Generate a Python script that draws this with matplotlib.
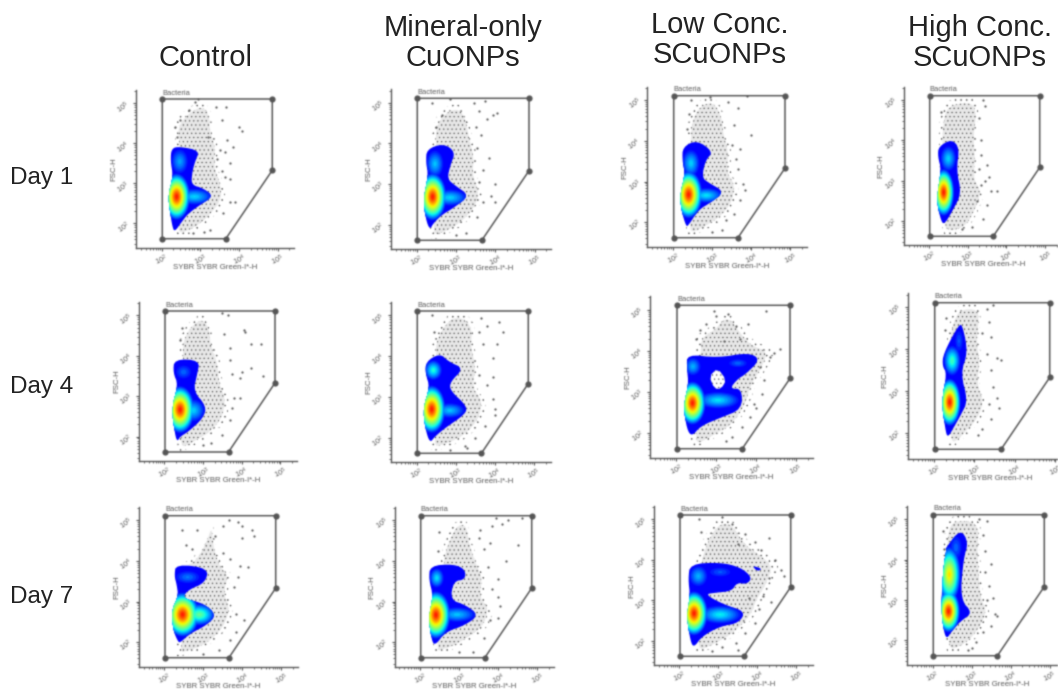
import numpy as np
import matplotlib
matplotlib.use("Agg")
import matplotlib.pyplot as plt
from matplotlib.patches import Ellipse, Polygon

plt.rcParams['font.family'] = ['Liberation Sans', 'DejaVu Sans']
plt.rcParams['hatch.linewidth'] = 0.3

W, H = 1058, 689

col_titles = ["Control", "Mineral-only\nCuONPs", "Low Conc.\nSCuONPs", "High Conc.\nSCuONPs"]
row_titles = ["Day 1", "Day 4", "Day 7"]
x_label = "SYBR SYBR Green-I*-H"
y_label = "FSC-H"
gate_name = "Bacteria"
tick_values = [2, 3, 4, 5]

# gate vertices, log10 units
gate_x = [2.02, 4.86, 4.86, 3.66, 2.02]
gate_y = [5.11, 5.11, 3.33, 1.62, 1.62]

# outlines of the coloured density area, log10 units
outline_c1 = [(2.26,3.88),(2.47,3.92),(2.99,3.82),(2.86,3.54),(2.78,3.21),(2.78,2.96),(3.08,2.88),(3.34,2.68),(2.99,2.46),(2.69,2.25),(2.52,2.04),(2.34,1.79),(2.28,1.92),(2.22,2.29),(2.17,2.71),(2.30,3.17),(2.23,3.58)]
outline_m1 = [(2.26,3.86),(2.69,4.0),(2.99,3.79),(2.86,3.46),(2.78,3.13),(2.99,2.96),(3.35,2.72),(2.95,2.42),(2.65,2.25),(2.43,2.04),(2.34,1.88),(2.24,2.12),(2.17,2.62),(2.3,3.21),(2.24,3.54)]
outline_l1 = [(2.25,3.85),(2.61,4.02),(3.03,3.73),(2.83,3.52),(2.74,3.1),(2.91,2.97),(3.32,2.75),(2.96,2.48),(2.66,2.31),(2.4,1.93),(2.34,1.89),(2.22,2.27),(2.18,2.68),(2.31,3.18),(2.24,3.52)]
outline_h1 = [(2.25,3.85),(2.59,4.03),(2.79,3.81),(2.71,3.27),(2.84,2.68),(2.62,2.27),(2.41,1.93),(2.32,1.97),(2.19,2.52),(2.32,3.27),(2.23,3.6)]
outline_c4 = [(2.26,3.92),(2.92,3.89),(2.85,3.54),(2.75,3.13),(3.09,2.75),(3.01,2.46),(2.62,2.12),(2.41,2.0),(2.34,1.88),(2.28,2.04),(2.19,2.71),(2.36,3.29),(2.23,3.58)]
outline_m4 = [(2.24,3.87),(2.6,4.07),(2.82,3.87),(3.21,3.7),(2.86,3.37),(2.86,3.16),(3.29,2.78),(3.25,2.58),(2.73,2.24),(2.47,2.03),(2.34,1.87),(2.22,2.24),(2.17,2.74),(2.34,3.24),(2.23,3.57)]
outline_l4 = [(2.27,3.92),(3.04,3.83),(3.82,3.96),(4.12,3.79),(3.73,3.42),(3.56,3.33),(3.34,3.08),(3.65,3.08),(3.65,2.58),(3.13,2.38),(2.61,2.17),(2.4,1.92),(2.27,2.08),(2.18,2.67),(2.31,3.17),(2.27,3.58)]
outline_h4 = [(2.23,3.89),(2.62,4.6),(2.71,4.56),(2.84,3.93),(2.66,3.43),(2.84,2.77),(2.66,2.43),(2.49,2.14),(2.34,1.89),(2.28,2.1),(2.19,2.77),(2.32,3.43),(2.21,3.6)]
outline_c7 = [(2.3,3.92),(3.14,3.82),(3.05,3.46),(2.62,3.29),(2.45,3.08),(3.01,2.96),(3.34,2.67),(3.09,2.42),(2.66,2.21),(2.42,2.0),(2.36,2.0),(2.23,2.29),(2.19,2.79),(2.36,3.13),(2.32,3.42),(2.26,3.63)]
outline_m7 = [(2.26,3.88),(2.86,3.92),(3.16,3.79),(3.16,3.54),(2.86,3.5),(2.78,3.04),(3.16,2.92),(3.51,2.67),(3.16,2.42),(2.65,2.25),(2.39,1.92),(2.3,2.04),(2.22,2.62),(2.34,3.13),(2.23,3.54)]
outline_l7 = [(2.28,3.9),(3.05,3.94),(3.57,3.82),(3.87,3.57),(3.74,3.4),(3.48,3.44),(3.35,3.23),(2.92,3.19),(2.66,3.15),(3.14,2.9),(3.7,2.73),(3.53,2.44),(3.05,2.36),(2.58,2.11),(2.38,1.84),(2.29,1.98),(2.19,2.61),(2.28,3.11),(2.23,3.53)]
outline_h7 = [(2.32,4.26),(2.71,4.76),(2.92,4.43),(2.79,4.01),(2.71,3.01),(3.03,2.68),(2.71,2.47),(2.49,2.22),(2.36,2.03),(2.28,2.26),(2.22,2.84),(2.28,3.84),(2.36,4.26)]
outlines = [outline_c1, outline_m1, outline_l1, outline_h1,
            outline_c4, outline_m4, outline_l4, outline_h4,
            outline_c7, outline_m7, outline_l7, outline_h7]

# density peaks: x, y, x radius, y radius, peak height 0-1
peaks_c1 = [(2.39,2.67,.36,.60,1.0),(2.85,2.67,.50,.22,.30),(2.47,3.55,.24,.34,.24)]
peaks_m1 = [(2.41,2.69,.36,.60,1.0),(2.85,2.67,.48,.22,.30),(2.47,3.5,.24,.36,.28)]
peaks_l1 = [(2.40,2.68,.36,.60,1.0),(2.85,2.66,.46,.20,.32),(2.46,3.45,.24,.36,.30)]
peaks_h1 = [(2.38,2.71,.28,.60,1.0),(2.5,3.55,.22,.34,.30)]
peaks_c4 = [(2.41,2.67,.38,.60,1.0),(2.75,2.65,.32,.30,.30),(2.5,3.6,.24,.20,.16)]
peaks_m4 = [(2.39,2.70,.36,.60,1.0),(2.85,2.67,.42,.20,.28),(2.43,3.66,.24,.26,.38)]
peaks_l4 = [(2.41,2.73,.34,.54,1.0),(3.05,2.8,.58,.22,.32),(2.42,3.62,.22,.24,.26),(3.55,3.7,.28,.12,.16)]
peaks_h4 = [(2.39,2.74,.28,.58,1.0),(2.45,3.73,.22,.38,.42),(2.62,4.2,.12,.30,.14)]
peaks_c7 = [(2.47,2.68,.44,.56,1.0),(2.90,2.68,.42,.28,.48),(2.6,3.6,.36,.18,.18)]
peaks_m7 = [(2.41,2.67,.38,.60,1.0),(2.95,2.68,.52,.20,.28),(2.43,3.58,.20,.26,.32)]
peaks_l7 = [(2.38,2.68,.36,.56,1.0),(3.05,2.65,.58,.24,.34),(2.49,3.6,.26,.28,.26),(3.05,3.7,.34,.14,.14)]
peaks_h7 = [(2.41,2.72,.30,.54,1.0),(2.43,3.63,.30,.72,.74),(2.6,4.3,.18,.34,.16)]
peaks = [peaks_c1, peaks_m1, peaks_l1, peaks_h1,
         peaks_c4, peaks_m4, peaks_l4, peaks_h4,
         peaks_c7, peaks_m7, peaks_l7, peaks_h7]

# areas where the events are too dense to read one by one
cloud_c1 = [(3.08,5.08),(3.29,4.79),(3.29,4.42),(3.47,3.96),(3.42,3.42),(3.64,2.92),(3.64,2.5),(3.25,2.08),(2.91,1.83),(2.52,1.65),(2.34,1.65),(2.34,1.92),(2.39,3.92),(2.3,4.5),(2.65,4.88)]
cloud_m1 = [(3.1,5.0),(3.3,4.7),(3.4,4.2),(3.55,3.7),(3.5,3.2),(3.7,2.8),(3.6,2.4),(3.2,2.0),(2.85,1.8),(2.5,1.65),(2.34,1.65),(2.34,2.0),(2.4,4.0),(2.4,4.5),(2.7,4.9)]
cloud_l1 = [(3.05,5.1),(3.3,4.7),(3.35,4.2),(3.5,3.8),(3.45,3.2),(3.7,2.9),(3.6,2.4),(3.2,2.0),(2.8,1.8),(2.5,1.65),(2.34,1.65),(2.34,2.0),(2.35,4.0),(2.4,4.6),(2.65,5.0)]
cloud_h1 = [(3.15,5.1),(3.3,4.8),(3.2,4.2),(3.25,3.6),(3.2,3.0),(3.45,2.7),(3.25,2.2),(3.0,1.8),(2.7,1.65),(2.34,1.65),(2.34,2.0),(2.25,3.9),(2.27,4.5),(2.4,5.0)]
cloud_c4 = [(3.0,5.05),(3.2,4.8),(3.25,4.3),(3.45,3.9),(3.5,3.3),(3.7,2.9),(3.6,2.4),(3.2,2.0),(2.8,1.8),(2.5,1.65),(2.34,1.65),(2.34,2.0),(2.4,3.9),(2.4,4.5),(2.7,4.9)]
cloud_m4 = [(3.2,5.1),(3.5,4.8),(3.45,4.3),(3.6,3.8),(3.5,3.2),(3.8,2.9),(3.7,2.4),(3.3,2.0),(2.9,1.8),(2.5,1.68),(2.36,1.68),(2.36,2.0),(2.4,4.0),(2.4,4.5),(2.8,5.05)]
cloud_l4 = [(3.3,5.0),(3.7,4.5),(4.0,4.2),(4.5,4.05),(4.3,3.6),(4.0,3.2),(3.8,2.6),(3.4,2.1),(2.9,1.85),(2.5,1.65),(2.36,1.65),(2.36,2.0),(2.5,3.95),(2.5,4.4),(2.9,4.6)]
cloud_h4 = [(3.15,5.1),(3.15,4.7),(3.1,4.2),(3.2,3.7),(3.1,3.2),(3.3,2.7),(3.15,2.3),(2.8,1.95),(2.5,1.68),(2.36,1.68),(2.34,2.0),(2.3,4.2),(2.4,4.7),(2.6,5.08)]
cloud_c7 = [(3.25,5.0),(3.3,4.4),(3.5,3.9),(3.75,3.7),(3.6,3.2),(3.8,2.8),(3.6,2.3),(3.2,1.95),(2.8,1.75),(2.4,1.65),(2.3,1.65),(2.34,2.0),(2.4,3.9),(2.8,4.1),(3.1,4.6)]
cloud_m7 = [(3.2,5.05),(3.3,4.5),(3.5,4.0),(3.7,3.6),(3.6,3.1),(3.9,2.8),(3.7,2.3),(3.2,2.0),(2.8,1.8),(2.4,1.68),(2.34,1.68),(2.34,2.0),(2.5,3.9),(2.6,4.4),(2.9,5.0)]
cloud_l7 = [(3.35,5.05),(3.7,4.5),(4.2,4.2),(4.6,3.9),(4.4,3.4),(4.1,3.0),(3.95,2.6),(3.4,2.1),(2.9,1.85),(2.5,1.68),(2.36,1.68),(2.34,2.0),(2.4,3.9),(2.55,4.4),(2.9,5.0)]
cloud_h7 = [(3.0,5.1),(3.25,4.9),(3.2,4.3),(3.25,3.6),(3.3,3.0),(3.5,2.7),(3.25,2.2),(2.9,1.85),(2.55,1.68),(2.36,1.68),(2.34,2.0),(2.25,3.9),(2.3,4.6),(2.4,5.08)]
clouds = [cloud_c1, cloud_m1, cloud_l1, cloud_h1,
          cloud_c4, cloud_m4, cloud_l4, cloud_h4,
          cloud_c7, cloud_m7, cloud_l7, cloud_h7]

# single events away from the dense part
dots_c1 = [(4.0,4.42),(4.08,4.32),(3.66,4.92),(3.55,4.58),(3.69,4.08),(3.77,3.5),(3.64,3.79),(3.64,3.17),(3.77,3.12),(3.9,2.54),(3.77,2.54),(3.6,2.25),(3.42,3.6),(3.5,3.83),(2.86,5.04),(2.72,4.83),(2.47,4.58),(2.39,4.17),(2.34,4.42),(3.2,4.17),(3.25,1.83),(3.09,1.79),(2.8,1.75),(3.55,3.3),(3.4,4.9),(2.95,5.1),(3.85,3.9)]
dots_m1 = [(4.05,4.75),(3.95,4.7),(3.75,5.05),(3.6,4.8),(3.8,4.6),(3.85,3.65),(3.65,4.2),(3.7,3.35),(4.0,3.0),(3.9,2.7),(4.0,2.55),(3.7,2.55),(3.55,2.2),(3.55,3.9),(2.4,5.0),(2.65,4.7),(3.45,5.0),(3.25,1.8),(3.0,1.75),(3.6,3.05),(3.5,4.4),(2.85,5.1),(2.5,4.4)]
dots_l1 = [(4.0,4.15),(3.9,5.1),(3.65,4.8),(3.55,4.4),(3.7,3.8),(3.65,3.3),(3.8,2.95),(3.85,2.8),(3.7,2.55),(3.55,2.2),(3.5,3.9),(2.45,5.0),(2.4,4.65),(2.95,5.08),(3.25,1.8),(3.0,1.75),(3.4,4.95),(3.6,3.55),(2.35,4.3),(3.35,2.05)]
dots_h1 = [(3.4,5.0),(3.45,4.85),(3.3,4.55),(3.35,4.0),(3.5,3.4),(3.55,3.1),(3.6,2.75),(3.75,2.75),(3.5,2.4),(3.4,2.05),(3.35,3.65),(3.35,2.9),(3.1,1.85),(2.85,1.8),(2.3,4.7),(3.25,2.5),(3.45,3.0),(3.3,3.3)]
dots_c4 = [(4.05,4.65),(4.08,4.6),(4.25,4.3),(4.5,4.3),(4.25,3.7),(4.0,3.6),(3.95,3.45),(4.55,3.5),(3.95,2.95),(3.75,2.7),(3.7,2.4),(3.5,2.05),(3.7,3.9),(3.75,3.55),(3.7,4.2),(3.5,5.05),(3.65,5.0),(2.45,4.7),(2.4,4.4),(3.2,1.85),(3.0,1.8),(3.8,2.95),(3.55,4.55)]
dots_m4 = [(4.1,4.85),(4.2,4.6),(4.05,4.3),(3.95,3.95),(3.95,3.5),(4.0,2.7),(4.0,2.55),(3.95,2.95),(3.75,2.3),(3.5,2.0),(3.25,1.8),(3.65,4.95),(3.8,4.75),(3.7,4.3),(2.4,5.0),(2.45,4.6),(3.8,3.3),(3.3,1.75),(2.85,1.7),(3.6,4.6),(3.6,3.55)]
dots_l4 = [(4.25,4.98),(4.45,3.95),(4.6,4.05),(4.35,3.85),(4.1,3.6),(4.2,3.3),(4.15,2.95),(3.95,2.7),(3.85,2.4),(3.65,2.15),(3.4,1.9),(3.25,1.8),(3.3,4.9),(2.95,4.98),(3.0,4.85),(2.6,4.5),(2.5,4.3),(3.5,4.6),(3.8,4.65),(4.0,2.6),(3.2,4.25),(3.6,4.3),(2.75,4.65)]
dots_h4 = [(3.3,4.95),(3.45,5.05),(3.35,4.65),(3.4,4.3),(3.55,3.8),(3.65,3.75),(3.4,3.5),(3.45,3.1),(3.55,2.85),(3.6,2.6),(3.4,2.35),(3.2,2.1),(3.1,1.95),(2.3,4.75),(2.28,4.45),(3.2,4.4),(3.3,3.9),(3.35,2.7)]
dots_c7 = [(3.65,5.0),(3.9,4.95),(4.0,4.85),(4.25,4.75),(4.3,4.6),(4.0,4.55),(3.5,4.85),(2.45,4.75),(2.85,4.75),(3.3,4.6),(3.5,4.2),(3.95,3.88),(4.15,3.85),(3.9,3.6),(3.8,3.35),(4.05,2.55),(3.85,2.25),(3.7,2.05),(3.4,1.8),(3.0,1.72),(3.7,4.05),(2.55,4.4),(2.7,4.3),(3.85,2.7)]
dots_m7 = [(3.95,5.05),(4.25,5.0),(4.6,5.05),(4.5,4.4),(4.1,4.9),(3.85,4.85),(3.8,4.45),(3.55,4.75),(3.65,4.3),(3.75,3.85),(4.0,3.55),(4.0,3.1),(4.05,2.9),(3.8,2.55),(4.0,2.6),(3.65,2.1),(3.35,1.75),(3.0,1.75),(3.5,4.55),(2.5,4.7),(2.45,4.25),(3.85,3.3),(4.2,4.0)]
dots_l7 = [(4.45,4.0),(4.7,3.6),(4.6,3.75),(4.3,3.55),(4.15,3.1),(4.05,2.8),(3.95,2.45),(3.7,2.2),(3.45,1.95),(3.1,1.85),(2.5,5.0),(2.55,4.7),(3.1,5.05),(3.35,4.9),(3.7,4.65),(3.95,4.45),(4.1,4.25),(4.3,4.55),(3.5,4.4),(3.8,3.05),(3.5,1.78),(2.85,1.75),(4.35,2.95)]
dots_h7 = [(3.2,5.0),(3.4,4.95),(3.5,3.9),(3.45,3.35),(3.35,3.7),(3.6,2.65),(3.65,2.6),(3.5,2.35),(3.4,3.0),(3.3,4.6),(3.35,4.2),(3.3,2.2),(3.1,1.95),(2.9,1.75),(3.55,3.05),(2.28,4.7),(2.3,4.25),(3.0,1.8)]
dots = [dots_c1, dots_m1, dots_l1, dots_h1,
        dots_c4, dots_m4, dots_l4, dots_h4,
        dots_c7, dots_m7, dots_l7, dots_h7]

# holes and small separate pieces of the density area
hole_l4 = [(2.83,3.38),(3.04,3.58),(3.26,3.29),(3.13,3.08),(2.96,3.08)]
island_l7 = [(3.87,3.86),(4.13,3.78),(4.0,3.72)]

# gate corners in pixels: left, right, top, bottom
gate_left = [162.3, 417.3, 673.7, 929.7, 165, 417.3, 677, 934.7, 165, 420.7, 680, 933.3]
gate_right = [272.3, 529, 785, 1039.7, 275, 528.3, 790, 1049.7, 275.7, 531.7, 790.7, 1044.3]
gate_top = [99, 98.3, 95.7, 95.7, 311, 311, 305.3, 302.7, 515.7, 515.7, 515, 514.7]
gate_bottom = [238.7, 240.3, 237.7, 236.3, 452, 453.3, 448.7, 449.3, 657.7, 657.7, 656.3, 655.7]

XLIM = (1.35, 5.43)
YLIM = (1.40, 5.33)
GREY = '#555555'


def blur(img, dpi, sigma=0.7, pad=4):
    # soft look of the scanned figure, done on premultiplied colour
    src = np.pad(img, ((pad, pad), (pad, pad), (0, 0)))
    src[..., :3] *= src[..., 3:]
    k = np.arange(-pad, pad + 1)
    k = np.exp(-k**2 / (2 * sigma**2))
    k /= k.sum()
    for axis in (0, 1):
        src = np.apply_along_axis(np.convolve, axis, src, k, mode='same')
    a = np.clip(src[..., 3:], 1e-4, 1)
    src[..., :3] = np.clip(src[..., :3] / a, 0, 1)
    return np.clip(src, 0, 1), -pad, -pad


def rounded(points, passes=2):
    # corner cutting, so the read-off outlines do not look like polygons
    pts = np.array(points, dtype=float)
    for _ in range(passes):
        nxt = np.roll(pts, -1, axis=0)
        pts = np.column_stack([0.75 * pts + 0.25 * nxt, 0.25 * pts + 0.75 * nxt]).reshape(-1, 2)
    return pts


def draw_density(ax, outline, spots):
    shape = Polygon(rounded(outline), closed=True, fc=plt.cm.jet(0.12), ec='none', zorder=3)
    ax.add_patch(shape)
    steps = 24
    for i in range(1, steps + 1):
        t = i / steps
        color = plt.cm.jet(0.12 + 0.79 * t)
        for x, y, rx, ry, level in spots:
            if t > level:
                continue
            f = (1 - t / level) ** 0.8
            e = Ellipse((x, y), 2 * rx * f, 2 * ry * f, fc=color, ec='none', zorder=3 + t)
            ax.add_patch(e)
            e.set_clip_path(shape)


fig = plt.figure(figsize=(W / 100, H / 100), dpi=100, facecolor='white')

for i in range(12):
    sx = (gate_right[i] - gate_left[i]) / (gate_x[1] - gate_x[0])
    sy = (gate_bottom[i] - gate_top[i]) / (gate_y[0] - gate_y[3])
    left = gate_left[i] + (XLIM[0] - gate_x[0]) * sx
    bottom = gate_bottom[i] - (YLIM[0] - gate_y[3]) * sy
    w = (XLIM[1] - XLIM[0]) * sx
    h = (YLIM[1] - YLIM[0]) * sy
    ax = fig.add_axes([left / W, 1 - bottom / H, w / W, h / H])
    ax.set_xlim(XLIM)
    ax.set_ylim(YLIM)
    ax.patch.set_visible(False)
    for side in ('top', 'right'):
        ax.spines[side].set_visible(False)
    for side in ('left', 'bottom'):
        ax.spines[side].set_color(GREY)
        ax.spines[side].set_linewidth(1.0)

    minor = [d + np.log10(m) for d in (1, 2, 3, 4, 5) for m in range(2, 10)]
    ax.set_xticks(tick_values)
    ax.set_yticks(tick_values)
    ax.set_xticks([v for v in minor if XLIM[0] < v < XLIM[1]], minor=True)
    ax.set_yticks([v for v in minor if YLIM[0] < v < YLIM[1]], minor=True)
    labels = ['$\\mathregular{10^{%d}}$' % v for v in tick_values]
    ax.set_xticklabels(labels, rotation=25, fontsize=5.2, color=GREY)
    ax.set_yticklabels(labels, rotation=35, fontsize=5.2, color=GREY)
    ax.tick_params(which='major', length=2.2, width=0.8, color=GREY, pad=1)
    ax.tick_params(which='minor', length=1.2, width=0.6, color=GREY)
    ax.set_xlabel(x_label, fontsize=5.6, color=GREY)
    ax.set_ylabel(y_label, fontsize=5.6, color=GREY)
    ax.xaxis.set_label_coords(0.5, -16.0 / h)
    ax.yaxis.set_label_coords(-19.0 / w, 0.5)

    # dense events: sparse stipple outside, heavier stipple towards the middle
    outer = rounded(clouds[i])
    ax.add_patch(Polygon(outer, closed=True, fc='none', ec='#3c3c3c', hatch='...', lw=0, zorder=1))
    mid = outer.mean(axis=0)
    inner = mid + (outer - mid) * [0.84, 0.92]
    ax.add_patch(Polygon(inner, closed=True, fc='#e8e8e8', ec='#333333', hatch='....', lw=0, zorder=1.1))
    pts = np.array(dots[i])
    ax.scatter(pts[:, 0], pts[:, 1], s=2.6, c='#555555', linewidths=0, zorder=2)

    ax.plot(gate_x + gate_x[:1], gate_y + gate_y[:1], color=GREY, lw=1.1, zorder=5)
    ax.scatter(gate_x, gate_y, s=20, c='#555555', linewidths=0, zorder=6)
    ax.text(gate_x[0], gate_y[0] + 0.06, gate_name, fontsize=5.4, color=GREY, va='bottom', zorder=6)

    draw_density(ax, outlines[i], peaks[i])
    if i == 6:
        ax.add_patch(Polygon(rounded(hole_l4, 1), closed=True, fc='white', ec='#3c3c3c', hatch='....', lw=0, zorder=30))
    if i == 10:
        ax.add_patch(Polygon(rounded(island_l7, 1), closed=True, fc=plt.cm.jet(0.12), ec='none', zorder=3))
    ax.set_agg_filter(blur)

col_x = [205, 463, 720, 980]
col_y = [58, 43, 40, 43]
for label, x, y in zip(col_titles, col_x, col_y):
    fig.text(x / W, 1 - y / H, label, ha='center', va='center', fontsize=21, color='#222222', linespacing=1.1)
row_y = [178, 387, 597]
for label, y in zip(row_titles, row_y):
    fig.text(10 / W, 1 - y / H, label, ha='left', va='center', fontsize=17.5, color='#222222')

fig.savefig('out.png', dpi=100)
